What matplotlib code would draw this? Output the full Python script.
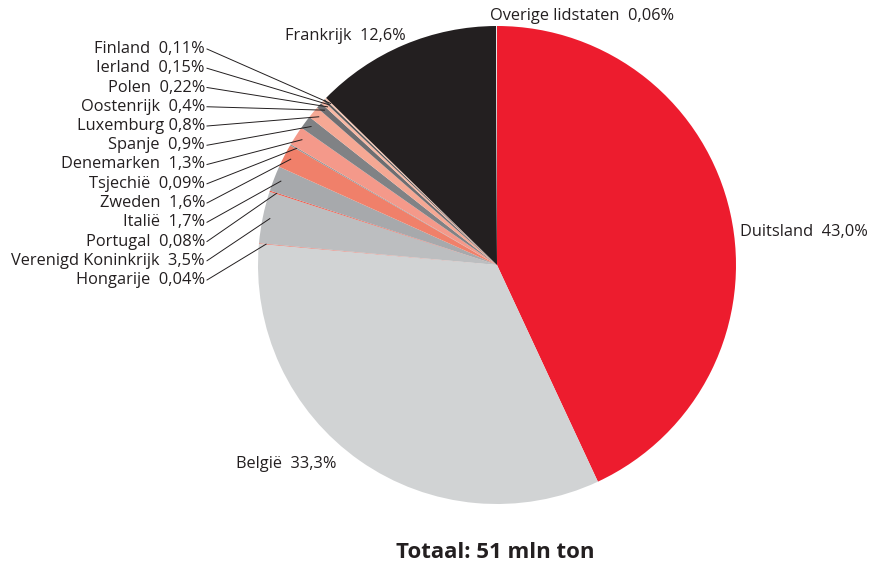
import numpy as np
import matplotlib
matplotlib.use('Agg')
import matplotlib.pyplot as plt

plt.rcParams['font.family'] = ['Open Sans', 'DejaVu Sans']

# data: clockwise from 12 o'clock
landen = ['Duitsland', 'België', 'Hongarije', 'Verenigd Koninkrijk', 'Portugal', 'Italië',
          'Zweden', 'Tsjechië', 'Denemarken', 'Spanje', 'Luxemburg', 'Oostenrijk',
          'Polen', 'Ierland', 'Finland', 'Frankrijk', 'Overige lidstaten']
aandeel = [43.0, 33.3, 0.04, 3.5, 0.08, 1.7, 1.6, 0.09, 1.3, 0.9, 0.8, 0.4,
           0.22, 0.15, 0.11, 12.6, 0.06]
kleuren = ['#ED1C2E', '#D1D3D4', '#F15A4A', '#BCBEC0', '#F15A4A', '#A7A9AC',
           '#F0806A', '#939598', '#F4998A', '#808285', '#F5A894', '#6D6E71',
           '#F8B8A4', '#58595B', '#FBC9B5', '#231F20', '#E6E7E8']
totaal = 'Totaal: 51 mln ton'

W, H = 874, 568
fig = plt.figure(figsize=(W / 100, H / 100), dpi=100)
ax = fig.add_axes([0, 0, 1, 1])

cx, cy, r = 497, H - 265, 239
wedges, _ = ax.pie(aandeel, colors=kleuren, startangle=90, counterclock=False,
                   center=(cx, cy), radius=r, frame=True,
                   wedgeprops=dict(linewidth=0))
ax.set_xlim(0, W)
ax.set_ylim(0, H)
ax.set_aspect('equal')
ax.axis('off')

fs = 11.8
kleur_tekst = '#231F20'


def label(i):
    v = aandeel[i]
    s = f'{v:.1f}' if v >= 0.4 else f'{v:.2f}'
    sep = ' ' if landen[i] == 'Luxemburg' else '  '
    return landen[i] + sep + s.replace('.', ',') + '%'


def mid(i, f=0.97):
    w = wedges[i]
    a = np.deg2rad((w.theta1 + w.theta2) / 2)
    return cx + f * r * np.cos(a), cy + f * r * np.sin(a)


# kleine schijven links, van boven naar beneden
links = list(range(14, 1, -1))
for k, i in enumerate(links):
    ty = H - (49 + k * 19.25)
    ax.text(205, ty, label(i), ha='right', va='center', fontsize=fs, color=kleur_tekst)
    px, py = mid(i)
    ax.plot([207, px], [ty, py], color=kleur_tekst, lw=0.7)

ax.text(740, H - 232, label(0), ha='left', va='center', fontsize=fs, color=kleur_tekst)
ax.text(236, H - 464, label(1), ha='left', va='center', fontsize=fs, color=kleur_tekst)
ax.text(285, H - 36, label(15), ha='left', va='center', fontsize=fs, color=kleur_tekst)
ax.text(490, H - 16, label(16), ha='left', va='center', fontsize=fs, color=kleur_tekst)

ax.text(495, H - 553, totaal, ha='center', va='center', fontsize=16,
        fontweight='bold', color=kleur_tekst)

fig.savefig('out.png', dpi=100)
